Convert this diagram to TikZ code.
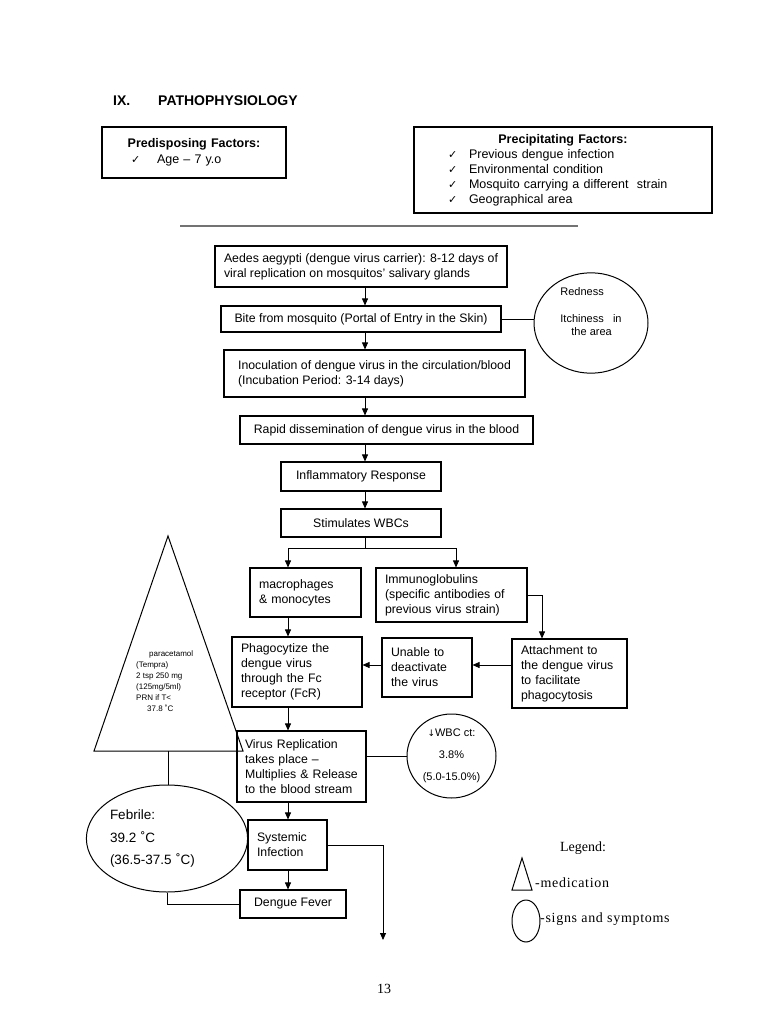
\documentclass[tikz,border=0pt]{standalone}
\usepackage{fontspec}
\setmainfont{Liberation Sans}
\newfontfamily\serifface{Liberation Serif}
\newfontfamily\serifwide[LetterSpace=5]{Liberation Serif}
\newfontfamily\symface{DejaVu Sans}
\usetikzlibrary{shapes.geometric,arrows.meta}
\newcommand{\chk}{{\symface\fontsize{11}{11}\selectfont ✓}}
\newcommand{\chkitem}[3]{\hspace*{#1}\makebox[#2][l]{\chk}#3}

\begin{document}
\begin{tikzpicture}
[x=1pt,y=-1pt,
  boxDecorate/.style={draw,line width=1.1pt,inner xsep=9pt,inner ysep=2pt,font=\fontsize{12.3}{15}\selectfont},
  leftDecorate/.style={boxDecorate,align=left},
  ovalDecorate/.style={draw,ellipse,line width=1pt,inner sep=0pt},
  textDecorate/.style={inner sep=0pt},
  lineDecorate/.style={-,line width=0.8pt},
  arrowDecorate/.style={-{Triangle[length=7pt,width=6pt]},line width=0.8pt}]
\useasboundingbox (0,0) rectangle (768,1024);
%% heading
\node (num) [textDecorate,anchor=west,font=\bfseries\fontsize{14}{16}\selectfont] at (113,101) {IX.};
\node (title) [textDecorate,anchor=west,font=\bfseries\fontsize{14}{16}\selectfont] at (158,101) {PATHOPHYSIOLOGY};
%% factors
\node (predis) [leftDecorate,inner xsep=8pt,minimum width=184pt,minimum height=51pt,text width=168pt,font=\fontsize{12.5}{16}\selectfont] at (194,152.5)
  {\hfill\textbf{Predisposing Factors:}\hfill\null\\
   \chkitem{21pt}{26pt}{Age -- 7 y.o}};
\node (precip) [leftDecorate,inner xsep=8pt,minimum width=298pt,minimum height=86pt,text width=282pt,font=\fontsize{12.5}{15}\selectfont] at (563,170)
  {\hfill\textbf{Precipitating Factors:}\hfill\null\\
   \chkitem{26pt}{21pt}{Previous dengue infection}\\
   \chkitem{26pt}{21pt}{Environmental condition}\\
   \chkitem{26pt}{21pt}{Mosquito carrying a different\ \ strain}\\
   \chkitem{26pt}{21pt}{Geographical area}};
\draw[line width=1.5pt,black!55] (180,226) -- (578,226);
%% main column
\node (aedes) [leftDecorate,minimum width=290pt,minimum height=41pt] at (361,266.5)
  {Aedes aegypti (dengue virus carrier): 8-12 days of\\viral replication on mosquitos’ salivary glands};
\node (bite) [boxDecorate,minimum width=280pt,minimum height=26pt] at (361,319)
  {Bite from mosquito (Portal of Entry in the Skin)};
\node (inoc) [leftDecorate,minimum width=301pt,minimum height=47pt] at (374.5,373.5)
  {Inoculation of dengue virus in the circulation/blood\\(Incubation Period: 3-14 days)};
\node (rapid) [boxDecorate,minimum width=293pt,minimum height=28pt] at (386.5,430)
  {Rapid dissemination of dengue virus in the blood};
\node (inflam) [boxDecorate,minimum width=160pt,minimum height=29pt] at (361,476.5) {Inflammatory Response};
\node (stim) [boxDecorate,minimum width=160pt,minimum height=28pt] at (361,523) {Stimulates WBCs};
\node (macro) [leftDecorate,minimum width=111pt,minimum height=49pt,text width=93pt] at (305.5,592.5)
  {macrophages\\\& monocytes};
\node (immuno) [leftDecorate,minimum width=151pt,minimum height=54pt,text width=133pt] at (451.5,595)
  {Immunoglobulins\\(specific antibodies of\\previous virus strain)};
\node (phago) [leftDecorate,minimum width=130pt,minimum height=70pt,text width=112pt] at (297,672)
  {Phagocytize the\\dengue virus\\through the Fc\\receptor (FcR)};
\node (unable) [leftDecorate,minimum width=90pt,minimum height=59pt,text width=72pt] at (427,667.5)
  {Unable to\\deactivate\\the virus};
\node (attach) [leftDecorate,minimum width=115pt,minimum height=69pt,text width=97pt] at (569.5,673.5)
  {Attachment to\\the dengue virus\\to facilitate\\phagocytosis};
\node (virus) [leftDecorate,inner xsep=8pt,minimum width=129pt,minimum height=71pt,text width=113pt] at (301.5,766.5)
  {Virus Replication\\takes place --\\Multiplies \& Release\\to the blood stream};
\node (sys) [leftDecorate,minimum width=79pt,minimum height=50pt,text width=61pt] at (287.5,845)
  {Systemic\\Infection};
\node (fever) [boxDecorate,minimum width=106pt,minimum height=28pt] at (293,904) {Dengue Fever};
%% signs and symptoms
\node (red) [ovalDecorate,minimum width=114pt,minimum height=90pt,align=left,font=\fontsize{11}{13}\selectfont] at (591,323)
  {Redness\\[14pt]Itchiness\ \ \ in\\\hspace*{11pt}the area\\[10pt]\mbox{}};
\node (wbc) [ovalDecorate,minimum width=89pt,minimum height=84pt,align=center,font=\fontsize{11}{22}\selectfont] at (451.5,756)
  {{\symface\fontsize{9}{9}\selectfont↓}WBC ct:\\3.8\%\\(5.0-15.0\%)};
\node (feb) [ovalDecorate,minimum width=145pt,minimum height=107pt,align=left,text width=114pt,font=\fontsize{13.5}{22.5}\selectfont] at (167,838.5)
  {Febrile:\\39.2 ˚C\\(36.5-37.5 ˚C)};
%% medication
\draw[line width=1pt] (168,536) -- (94,751) -- (243,751) -- cycle;
\coordinate (medbase) at (168,751);
\node (medtxt) [textDecorate,anchor=north west,align=left,font=\fontsize{8}{11}\selectfont] at (136,650)
  {\hspace*{13pt}paracetamol\\(Tempra)\\2 tsp 250 mg\\(125mg/5ml)\\PRN if T<\\\hspace*{11pt}37.8 ˚C};
%% legend
\node (legend) [textDecorate,font=\serifface\fontsize{14}{16}\selectfont] at (583,848) {Legend:};
\draw[line width=1pt] (522,858) -- (512,890) -- (532,890) -- cycle;
\node (legoval) [ovalDecorate,minimum width=28pt,minimum height=42pt] at (526,921) {};
\node (legmed) [textDecorate,anchor=west,font=\serifwide\fontsize{14}{16}\selectfont] at (535,883) {-medication};
\node (legsign) [textDecorate,anchor=west,font=\serifwide\fontsize{14}{16}\selectfont] at (540,919) {-signs and symptoms};
\node (page) [textDecorate,font=\serifface\fontsize{14}{16}\selectfont] at (384,989) {13};
%% connectors
\coordinate (spine) at (365,0);
\coordinate (lspine) at (288,0);
\coordinate (rspine) at (456,0);
\coordinate (aspine) at (542,0);
\coordinate (hrow) at (0,665);
\coordinate (split) at (365,548);
\coordinate (sysend) at (383,940);
\foreach \startnode/\endnode in {aedes/bite, bite/inoc, inoc/rapid, rapid/inflam, inflam/stim}
{
  \draw[arrowDecorate] (\startnode.south -| spine) -- (\endnode.north -| spine);
}
\draw[lineDecorate] (stim.south -| spine) -- (split);
\draw[arrowDecorate] (split) -| (macro.north -| lspine);
\draw[arrowDecorate] (split) -| (immuno.north -| rspine);
\foreach \startnode/\endnode in {macro/phago, phago/virus, virus/sys, sys/fever}
{
  \draw[arrowDecorate] (\startnode.south -| lspine) -- (\endnode.north -| lspine);
}
\draw[arrowDecorate] (immuno.east) -| (attach.north -| aspine);
\draw[arrowDecorate] (attach.west |- hrow) -- (unable.east |- hrow);
\draw[arrowDecorate] (unable.west |- hrow) -- (phago.east |- hrow);
\draw[lineDecorate] (bite.east) -- (bite.east -| red.west);
\draw[lineDecorate] (virus.east |- wbc.west) -- (wbc.west);
\draw[lineDecorate] (medbase) -- (medbase |- feb.north);
\draw[lineDecorate] (feb.south) |- (fever.west);
\draw[arrowDecorate] (sys.east) -| (sysend);
\end{tikzpicture}
\end{document}
